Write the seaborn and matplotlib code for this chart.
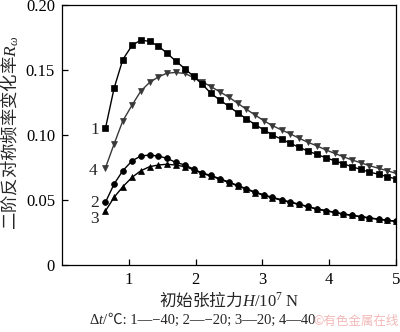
import numpy as np
import pandas as pd
import matplotlib
matplotlib.use("Agg")
import matplotlib.pyplot as plt
import seaborn as sns

# ---- data ----
tension = [0.65, 0.78, 0.91, 1.05, 1.18, 1.31, 1.44, 1.57, 1.70, 1.84, 1.97, 2.10,
           2.23, 2.36, 2.50, 2.63, 2.76, 2.89, 3.02, 3.15, 3.29, 3.42, 3.55, 3.68,
           3.81, 3.95, 4.08, 4.21, 4.34, 4.47, 4.60, 4.74, 4.87, 5.00]

curve1 = [0.105, 0.136, 0.158, 0.169, 0.173, 0.172, 0.1685, 0.163, 0.157, 0.151,
          0.145, 0.139, 0.132, 0.127, 0.122, 0.117, 0.1125, 0.108, 0.104, 0.100,
          0.0967, 0.0936, 0.0905, 0.0877, 0.0852, 0.0825, 0.0802, 0.0779, 0.0756,
          0.0736, 0.0715, 0.0698, 0.0679, 0.0662]

curve4 = [0.0746, 0.0931, 0.1108, 0.1231, 0.1338, 0.1404, 0.1446, 0.1475, 0.1481,
          0.1473, 0.1442, 0.1410, 0.1372, 0.1333, 0.1290, 0.1244, 0.1198, 0.1154,
          0.1110, 0.1072, 0.1038, 0.1008, 0.0975, 0.0944, 0.0918, 0.0885, 0.0859,
          0.0833, 0.0808, 0.0787, 0.0764, 0.0744, 0.0725, 0.0705]

curve2 = [0.0482, 0.0623, 0.0725, 0.0802, 0.0838, 0.0846, 0.0838, 0.0821, 0.0790,
          0.0769, 0.0738, 0.0707, 0.0689, 0.0664, 0.0638, 0.0612, 0.0587, 0.0561,
          0.0540, 0.0520, 0.0502, 0.0484, 0.0468, 0.0450, 0.0432, 0.0419, 0.0406,
          0.0393, 0.0383, 0.0373, 0.0363, 0.0353, 0.0345, 0.0337]

curve3 = [0.0415, 0.0521, 0.0602, 0.0675, 0.0725, 0.0756, 0.0769, 0.0775, 0.0769,
          0.0756, 0.0734, 0.0703, 0.0685, 0.0660, 0.0634, 0.0608, 0.0583, 0.0557,
          0.0536, 0.0516, 0.0498, 0.0480, 0.0466, 0.0448, 0.0430, 0.0417, 0.0404,
          0.0391, 0.0381, 0.0371, 0.0361, 0.0351, 0.0343, 0.0335]

labels = ["1", "2", "3", "4"]
label_pos = [(0.49, 0.1035), (0.49, 0.0477), (0.49, 0.0350), (0.46, 0.0722)]
xticks = [1, 2, 3, 4, 5]
yticks = [0, 0.05, 0.10, 0.15, 0.20]
ytick_labels = ["0", "0.05", "0.10", "0.15", "0.20"]

# ---- styling ----
sns.set_theme(style="ticks")
SERIF = ["Liberation Serif", "Noto Sans CJK SC", "DejaVu Sans"]
CJK = ["Noto Sans CJK SC", "DejaVu Sans"]
plt.rcParams["font.family"] = SERIF
plt.rcParams["mathtext.fontset"] = "custom"
plt.rcParams["mathtext.rm"] = "Liberation Serif"
plt.rcParams["mathtext.it"] = "Liberation Serif:italic"
plt.rcParams["mathtext.bf"] = "Liberation Serif:bold"
plt.rcParams["axes.unicode_minus"] = True

df = pd.DataFrame({
    "H": tension * 4,
    "R": curve1 + curve2 + curve3 + curve4,
    "curve": ["1"] * 34 + ["2"] * 34 + ["3"] * 34 + ["4"] * 34,
})

fig = plt.figure(figsize=(4.0, 3.32), dpi=100)
ax = fig.add_axes([0.155, 0.2018, 0.835, 0.7832])

styles = {
    "1": dict(marker="s", color="black", ms=3.8),
    "2": dict(marker="o", color="black", ms=4.2),
    "3": dict(marker="^", color="black", ms=4.5),
    "4": dict(marker="v", color="#383838", ms=4.5),
}
for c in ["4", "1", "3", "2"]:
    st = styles[c]
    sub = df[df["curve"] == c]
    sns.lineplot(data=sub, x="H", y="R", ax=ax, color=st["color"], lw=1.0,
                 marker=st["marker"], markersize=st["ms"], markeredgecolor=st["color"],
                 markeredgewidth=0.5, legend=False)

for lab, (lx, ly) in zip(labels, label_pos):
    ax.text(lx, ly, lab, fontsize=12.5, ha="center", va="center")

ax.set_xlim(0, 5)
ax.set_ylim(0, 0.20)
ax.set_xticks(xticks)
ax.set_xticklabels([str(t) for t in xticks])
ax.set_yticks(yticks)
ax.set_yticklabels(ytick_labels)
ax.tick_params(direction="in", length=4, width=0.9, labelsize=12, colors="black")
ax.tick_params(axis="x", pad=5)
ax.tick_params(axis="y", pad=5)
for s in ax.spines.values():
    s.set_visible(True)
    s.set_linewidth(0.9)
    s.set_color("black")

ax.set_xlabel(r"初始张拉力$H/10^7\ \mathrm{N}$", fontsize=12, family=CJK)
ax.xaxis.label.set_va("center")
ax.xaxis.set_label_coords(0.5, -0.135)
ax.set_ylabel(r"二阶反对称频率变化率$R_\omega$", fontsize=12.5, family=CJK)
ax.yaxis.label.set_va("center")
ax.yaxis.set_label_coords(-0.156, 0.51)

t1 = fig.text(0.222, 0.036, r"$\Delta t$/", fontsize=10.5, ha="left", va="center",
              family=SERIF)
ax.annotate("℃: 1—−40; 2—−20; 3—20; 4—40", xy=(1, 0), xycoords=t1,
            ha="left", va="bottom", fontsize=10.5, family=SERIF,
            annotation_clip=False)
fig.text(0.89, 0.033, "©有色金属在线", fontsize=9, color="#f2b8b8", ha="center",
         va="center", family=CJK)

fig.savefig("out.png", dpi=100)
